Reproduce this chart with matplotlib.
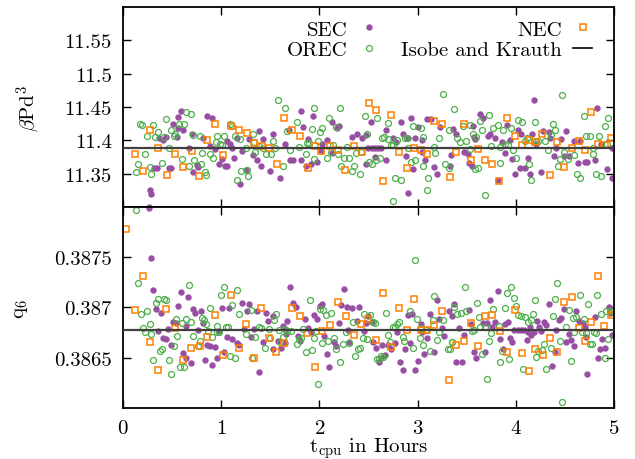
import matplotlib
matplotlib.use("Agg")
import matplotlib.pyplot as plt
from matplotlib.lines import Line2D

plt.rcParams["font.family"] = "serif"
plt.rcParams["font.serif"] = ["cmr10"]
plt.rcParams["mathtext.fontset"] = "cm"
plt.rcParams["axes.unicode_minus"] = False
plt.rcParams["axes.formatter.use_mathtext"] = True

# (t_cpu [h], beta P d^3) readings, upper panel
sec_top = [
    (0.59, 11.444), (0.56, 11.435), (0.51, 11.425), (0.56, 11.418), (0.61, 11.416),
    (0.37, 11.404), (0.41, 11.401), (0.44, 11.405), (0.55, 11.405), (0.70, 11.409),
    (0.67, 11.389), (0.32, 11.358), (0.35, 11.358), (0.47, 11.358), (0.49, 11.358),
    (0.75, 11.363), (0.76, 11.360), (0.71, 11.353), (0.27, 11.326), (0.29, 11.319),
    (0.26, 11.300), (0.86, 11.437), (0.91, 11.434), (0.81, 11.403), (0.89, 11.391),
    (0.94, 11.387), (1.06, 11.399), (1.09, 11.394), (1.01, 11.372), (0.98, 11.364),
    (1.04, 11.361), (1.06, 11.361), (1.13, 11.374), (1.21, 11.384), (1.28, 11.402),
    (1.38, 11.414), (1.43, 11.402), (1.32, 11.378), (1.36, 11.371), (1.41, 11.362),
    (1.50, 11.354), (1.53, 11.410), (1.60, 11.343), (1.65, 11.394), (1.25, 11.356),
    (1.19, 11.334), (1.11, 11.389), (1.16, 11.404),
    (1.81, 11.444), (1.93, 11.437), (1.83, 11.420), (1.69, 11.415), (1.88, 11.402),
    (2.08, 11.401), (2.03, 11.395), (1.70, 11.371), (1.73, 11.370), (1.81, 11.371),
    (1.91, 11.364), (1.86, 11.361), (1.98, 11.367), (2.02, 11.384), (2.13, 11.427),
    (2.18, 11.419), (2.20, 11.421), (2.33, 11.405), (2.38, 11.409), (2.43, 11.404),
    (2.47, 11.408), (2.53, 11.428), (2.68, 11.415), (2.50, 11.389), (2.54, 11.389),
    (2.57, 11.389), (2.60, 11.389), (2.63, 11.389), (2.57, 11.375), (2.47, 11.365),
    (2.68, 11.371), (2.75, 11.404), (2.78, 11.398), (2.83, 11.427), (2.85, 11.410),
    (2.93, 11.433), (2.88, 11.377), (2.90, 11.404), (2.97, 11.404), (3.00, 11.420),
    (3.05, 11.400), (2.95, 11.357), (3.05, 11.383), (3.08, 11.370), (3.10, 11.432),
    (3.14, 11.432), (3.23, 11.420), (3.17, 11.360), (3.20, 11.350), (2.90, 11.321),
    (3.34, 11.378), (2.13, 11.381),
    (4.19, 11.460), (4.83, 11.448), (3.64, 11.440), (3.67, 11.433), (3.56, 11.422),
    (3.36, 11.417), (3.39, 11.410), (3.57, 11.405), (3.58, 11.402), (3.47, 11.382),
    (3.51, 11.379), (3.74, 11.409), (3.72, 11.407), (3.79, 11.403), (3.91, 11.423),
    (3.94, 11.400), (3.86, 11.398), (4.02, 11.416), (4.05, 11.409), (3.89, 11.381),
    (3.96, 11.372), (4.12, 11.373), (4.04, 11.358), (4.09, 11.358), (4.14, 11.349),
    (3.99, 11.349), (4.26, 11.353), (4.17, 11.409), (4.21, 11.394), (4.28, 11.414),
    (4.34, 11.412), (4.35, 11.404), (4.51, 11.414), (4.41, 11.388), (4.39, 11.376),
    (4.46, 11.402), (4.49, 11.377), (4.54, 11.376), (4.59, 11.399), (4.65, 11.399),
    (4.63, 11.366), (4.70, 11.368), (4.73, 11.368), (4.81, 11.371), (4.87, 11.394),
    (4.93, 11.357), (4.98, 11.343), (4.98, 11.389), (3.33, 11.361), (3.52, 11.366),
    (3.55, 11.361), (3.82, 11.341),
]

orec_top = [
    (0.17, 11.424), (0.19, 11.423), (0.31, 11.423), (0.44, 11.432), (0.57, 11.424),
    (0.62, 11.424), (0.64, 11.442), (0.69, 11.439), (0.36, 11.413), (0.49, 11.415),
    (0.24, 11.406), (0.33, 11.405), (0.42, 11.405), (0.53, 11.409), (0.52, 11.406),
    (0.71, 11.408), (0.78, 11.406), (0.47, 11.388), (0.22, 11.380), (0.15, 11.364),
    (0.13, 11.352), (0.27, 11.360), (0.29, 11.349), (0.40, 11.366), (0.60, 11.372),
    (0.67, 11.362), (0.72, 11.371), (0.79, 11.364), (0.83, 11.353), (0.85, 11.348),
    (0.80, 11.381), (0.89, 11.379), (0.92, 11.373), (0.96, 11.406), (1.03, 11.406),
    (0.95, 11.397), (0.99, 11.395), (1.01, 11.393), (1.09, 11.425), (1.11, 11.421),
    (1.14, 11.406), (1.19, 11.402), (1.32, 11.409), (1.33, 11.398), (1.25, 11.388),
    (1.34, 11.383), (1.39, 11.391), (1.43, 11.389), (1.46, 11.380), (1.51, 11.380),
    (1.55, 11.389), (1.53, 11.399), (1.58, 11.460), (1.65, 11.449), (1.67, 11.414),
    (1.63, 11.361), (1.20, 11.354), (1.26, 11.355), (1.27, 11.347), (1.16, 11.341),
    (1.94, 11.449), (1.77, 11.428), (2.10, 11.433), (2.21, 11.448), (1.92, 11.417),
    (2.01, 11.413), (2.03, 11.418), (2.17, 11.420), (1.87, 11.396), (1.89, 11.396),
    (1.99, 11.399), (2.14, 11.393), (1.70, 11.385), (1.79, 11.390), (1.86, 11.380),
    (1.95, 11.372), (2.08, 11.374), (2.12, 11.382), (2.19, 11.380), (2.28, 11.390),
    (2.30, 11.374), (2.25, 11.373), (2.22, 11.362), (2.35, 11.362), (2.33, 11.354),
    (2.41, 11.349), (2.37, 11.381), (2.42, 11.382), (2.46, 11.437), (2.48, 11.409),
    (2.59, 11.433), (2.66, 11.405), (2.64, 11.403), (2.70, 11.426), (2.79, 11.400),
    (2.87, 11.403), (2.89, 11.403), (2.95, 11.421), (3.03, 11.418), (3.06, 11.405),
    (3.17, 11.390), (3.18, 11.381), (3.22, 11.404), (3.32, 11.416), (3.26, 11.469),
    (2.75, 11.393), (2.73, 11.393), (2.51, 11.368), (2.54, 11.365), (2.58, 11.371),
    (2.62, 11.373), (2.70, 11.402), (2.90, 11.389), (2.93, 11.367), (2.97, 11.371),
    (3.06, 11.361), (3.11, 11.343), (3.28, 11.364), (3.32, 11.359), (2.77, 11.344),
    (2.83, 11.341), (3.10, 11.325), (2.75, 11.309),
    (3.37, 11.447), (3.46, 11.422), (3.53, 11.423), (3.64, 11.429), (3.73, 11.438),
    (3.66, 11.416), (3.77, 11.418), (3.82, 11.423), (3.87, 11.416), (3.95, 11.418),
    (4.02, 11.430), (4.06, 11.428), (4.20, 11.428), (4.38, 11.424), (4.40, 11.415),
    (4.23, 11.399), (4.47, 11.468), (4.69, 11.436), (4.94, 11.434), (4.91, 11.421),
    (3.40, 11.403), (3.43, 11.397), (3.49, 11.399), (3.56, 11.410), (3.59, 11.405),
    (3.53, 11.387), (3.75, 11.392), (3.84, 11.390), (3.89, 11.394), (3.92, 11.393),
    (3.97, 11.386), (4.00, 11.374), (4.13, 11.364), (4.15, 11.340), (4.11, 11.404),
    (4.09, 11.399), (4.21, 11.399), (4.30, 11.399), (4.33, 11.386), (4.36, 11.408),
    (4.45, 11.372), (4.43, 11.362), (4.49, 11.383), (4.53, 11.372), (4.59, 11.378),
    (4.62, 11.350), (4.65, 11.343), (4.72, 11.406), (4.76, 11.407), (4.79, 11.379),
    (4.85, 11.406), (4.82, 11.349), (4.87, 11.347), (4.79, 11.388), (4.93, 11.395),
    (3.69, 11.318), (3.58, 11.357), (3.62, 11.358), (3.84, 11.366),
]

nec_top = [
    (0.12, 11.380), (0.20, 11.354), (0.28, 11.415), (0.36, 11.388), (0.45, 11.348),
    (0.53, 11.380), (0.61, 11.360), (0.70, 11.384), (0.77, 11.347), (0.86, 11.401),
    (0.94, 11.424), (1.02, 11.378), (1.10, 11.421), (1.18, 11.415), (1.26, 11.411),
    (1.33, 11.396), (1.42, 11.391), (1.49, 11.388), (1.57, 11.365), (1.64, 11.433),
    (1.72, 11.415), (1.80, 11.406), (1.88, 11.358), (1.96, 11.392), (2.02, 11.384),
    (2.11, 11.392), (2.19, 11.385), (2.26, 11.356), (2.35, 11.391), (2.43, 11.382),
    (2.51, 11.456), (2.58, 11.445), (2.65, 11.339), (2.73, 11.438), (2.81, 11.382),
    (2.89, 11.359), (2.96, 11.388), (3.03, 11.386), (3.10, 11.379), (3.17, 11.429),
    (3.25, 11.424), (3.33, 11.345), (3.39, 11.383), (3.47, 11.425), (3.54, 11.370),
    (3.62, 11.387), (3.69, 11.370), (3.76, 11.364), (3.83, 11.339), (3.91, 11.434),
    (3.99, 11.406), (4.06, 11.393), (4.13, 11.400), (4.20, 11.398), (4.27, 11.409),
    (4.35, 11.348), (4.42, 11.397), (4.49, 11.360), (4.57, 11.388), (4.64, 11.399),
    (4.70, 11.386), (4.77, 11.442), (4.84, 11.395), (4.91, 11.393), (4.97, 11.403),
]

# (t_cpu [h], q6) readings, lower panel
sec_bot = [
    (0.26, 0.38799), (0.29, 0.38749), (0.31, 0.38717), (0.59, 0.38715), (0.66, 0.38710),
    (0.56, 0.38701), (0.34, 0.38698), (0.39, 0.38695), (0.71, 0.38698), (0.73, 0.38695),
    (0.79, 0.38696), (0.81, 0.38685), (1.01, 0.38699), (1.08, 0.38699), (1.21, 0.38704),
    (1.28, 0.38703), (1.26, 0.38696), (1.36, 0.38696), (1.46, 0.38695), (1.48, 0.38687),
    (1.53, 0.38692), (1.63, 0.38682), (1.67, 0.38687), (0.36, 0.38677), (0.46, 0.38679),
    (0.41, 0.38670), (0.44, 0.38669), (0.49, 0.38663), (0.61, 0.38655), (0.64, 0.38650),
    (0.69, 0.38645), (0.84, 0.38648), (0.91, 0.38643), (0.96, 0.38650), (1.03, 0.38656),
    (0.86, 0.38663), (0.89, 0.38662), (0.94, 0.38661), (1.06, 0.38671), (1.11, 0.38669),
    (1.16, 0.38665), (1.18, 0.38663), (1.30, 0.38671), (1.23, 0.38679), (1.33, 0.38679),
    (1.38, 0.38636), (1.43, 0.38666), (1.53, 0.38659), (1.58, 0.38667), (1.61, 0.38660),
    (1.65, 0.38665), (0.51, 0.38686), (0.54, 0.38685), (0.64, 0.38682), (0.76, 0.38678),
    (0.98, 0.38677),
    (1.70, 0.38720), (1.73, 0.38704), (1.76, 0.38700), (1.85, 0.38689), (1.95, 0.38693),
    (1.98, 0.38689), (2.01, 0.38701), (2.03, 0.38703), (2.20, 0.38685), (2.22, 0.38702),
    (2.25, 0.38718), (2.28, 0.38700), (2.33, 0.38699), (2.40, 0.38700), (2.38, 0.38687),
    (2.47, 0.38685), (2.49, 0.38692), (2.54, 0.38686), (2.45, 0.38677), (1.78, 0.38672),
    (1.80, 0.38667), (1.88, 0.38680), (1.91, 0.38676), (2.05, 0.38672), (2.08, 0.38654),
    (2.10, 0.38641), (2.15, 0.38666), (2.17, 0.38662), (2.30, 0.38666), (2.29, 0.38678),
    (2.55, 0.38666), (2.58, 0.38660), (2.61, 0.38646), (2.63, 0.38650), (2.64, 0.38663),
    (2.67, 0.38653), (2.70, 0.38663), (2.73, 0.38659), (2.77, 0.38665), (2.82, 0.38646),
    (2.85, 0.38638), (2.87, 0.38659), (2.92, 0.38665), (2.90, 0.38693), (2.94, 0.38694),
    (2.97, 0.38638), (3.00, 0.38647), (3.03, 0.38684), (3.05, 0.38676), (3.10, 0.38670),
    (3.07, 0.38654), (3.17, 0.38656), (3.13, 0.38694), (3.20, 0.38707), (3.22, 0.38689),
    (3.25, 0.38680), (3.27, 0.38672), (3.32, 0.38696), (1.66, 0.38674), (2.79, 0.38676),
    (3.37, 0.38703), (3.35, 0.38692), (3.52, 0.38697), (3.54, 0.38684), (3.67, 0.38685),
    (3.71, 0.38685), (3.74, 0.38707), (3.82, 0.38716), (3.79, 0.38686), (3.76, 0.38681),
    (3.89, 0.38684), (3.92, 0.38686), (3.98, 0.38678), (4.02, 0.38678), (4.05, 0.38678),
    (4.08, 0.38678), (4.11, 0.38668), (4.16, 0.38673), (4.14, 0.38681), (4.22, 0.38687),
    (4.24, 0.38681), (4.29, 0.38686), (4.31, 0.38683), (4.26, 0.38677), (4.34, 0.38703),
    (4.41, 0.38678), (4.44, 0.38688), (4.46, 0.38690), (4.49, 0.38698), (4.51, 0.38666),
    (4.54, 0.38674), (4.56, 0.38668), (4.59, 0.38662), (4.61, 0.38696), (4.64, 0.38687),
    (4.68, 0.38685), (4.70, 0.38681), (4.73, 0.38634), (4.71, 0.38671), (4.81, 0.38691),
    (4.84, 0.38650), (4.86, 0.38659), (4.88, 0.38669), (4.91, 0.38660), (4.95, 0.38700),
    (4.98, 0.38673), (4.96, 0.38695), (3.39, 0.38646), (3.45, 0.38646), (3.47, 0.38673),
    (3.57, 0.38656), (3.59, 0.38650), (3.69, 0.38656), (3.84, 0.38669), (3.87, 0.38659),
    (3.94, 0.38670), (3.96, 0.38666), (4.37, 0.38642), (4.40, 0.38656), (3.42, 0.38680),
    (4.12, 0.38676), (4.19, 0.38676),
]

orec_bot = [
    (0.13, 0.38797), (0.15, 0.38724), (0.67, 0.38722), (1.03, 0.38720), (1.00, 0.38712),
    (1.16, 0.38717), (0.34, 0.38704), (0.36, 0.38708), (0.42, 0.38708), (0.44, 0.38707),
    (0.24, 0.38696), (0.18, 0.38694), (0.27, 0.38684), (0.20, 0.38680), (0.22, 0.38676),
    (0.29, 0.38674), (0.54, 0.38689), (0.60, 0.38685), (0.645, 0.38689), (0.69, 0.38686),
    (0.80, 0.38690), (0.82, 0.38688), (0.89, 0.38699), (0.85, 0.38684), (0.96, 0.38682),
    (1.05, 0.38681), (1.07, 0.38681), (1.11, 0.38702), (1.18, 0.38694), (1.30, 0.38697),
    (1.39, 0.38681), (1.41, 0.38680), (1.54, 0.38688), (1.56, 0.38694), (1.49, 0.38679),
    (1.59, 0.38678), (1.65, 0.38679), (0.31, 0.38648), (0.38, 0.38657), (0.40, 0.38659),
    (0.47, 0.38648), (0.49, 0.38634), (0.52, 0.38662), (0.55, 0.38672), (0.58, 0.38641),
    (0.62, 0.38641), (0.71, 0.38672), (0.76, 0.38662), (0.78, 0.38667), (0.87, 0.38677),
    (0.91, 0.38671), (0.96, 0.38676), (0.98, 0.38676), (1.09, 0.38652), (1.14, 0.38650),
    (1.25, 0.38674), (1.31, 0.38650), (1.34, 0.38671), (1.45, 0.38660), (1.50, 0.38670),
    (1.60, 0.38666), (1.63, 0.38671), (1.67, 0.38677),
    (1.90, 0.38707), (1.99, 0.38624), (2.01, 0.38698), (2.04, 0.38697), (2.07, 0.38693),
    (2.12, 0.38695), (1.71, 0.38677), (1.83, 0.38679), (1.79, 0.38669), (1.77, 0.38664),
    (1.81, 0.38670), (1.86, 0.38656), (1.92, 0.38658), (1.94, 0.38670), (1.97, 0.38677),
    (2.03, 0.38665), (2.09, 0.38667), (2.15, 0.38670), (2.17, 0.38659), (2.21, 0.38646),
    (2.24, 0.38664), (2.27, 0.38676), (2.30, 0.38665), (2.34, 0.38686), (2.36, 0.38652),
    (2.39, 0.38659), (2.41, 0.38660), (2.44, 0.38670), (2.48, 0.38669), (2.45, 0.38694),
    (2.52, 0.38693), (2.55, 0.38686), (2.57, 0.38685), (2.68, 0.38695), (2.70, 0.38673),
    (2.72, 0.38666), (2.75, 0.38681), (2.77, 0.38681), (2.79, 0.38684), (2.81, 0.38686),
    (2.85, 0.38671), (2.86, 0.38667), (2.95, 0.38660), (2.97, 0.38747), (2.92, 0.38696),
    (2.99, 0.38689), (3.02, 0.38670), (3.03, 0.38680), (3.06, 0.38663), (3.09, 0.38678),
    (3.13, 0.38657), (3.17, 0.38711), (3.16, 0.38688), (3.20, 0.38668), (3.22, 0.38676),
    (3.26, 0.38688), (3.31, 0.38659), (3.33, 0.38659), (3.35, 0.38666), (2.59, 0.38649),
    (2.61, 0.38649), (2.65, 0.38651), (2.63, 0.38652),
    (3.48, 0.38720), (3.37, 0.38700), (3.40, 0.38694), (3.44, 0.38695), (3.49, 0.38696),
    (3.60, 0.38704), (3.77, 0.38698), (3.63, 0.38691), (3.69, 0.38681), (3.64, 0.38681),
    (3.73, 0.38667), (3.75, 0.38675), (3.83, 0.38682), (3.89, 0.38699), (3.91, 0.38714),
    (3.95, 0.38720), (3.98, 0.38709), (4.00, 0.38701), (4.02, 0.38693), (4.05, 0.38692),
    (4.09, 0.38691), (4.12, 0.38686), (4.15, 0.38688), (4.18, 0.38694), (4.20, 0.38707),
    (4.38, 0.38692), (4.40, 0.38708), (4.42, 0.38724), (4.51, 0.38681), (4.54, 0.38697),
    (4.58, 0.38690), (4.61, 0.38691), (4.65, 0.38712), (4.69, 0.38689), (4.74, 0.38703),
    (4.83, 0.38712), (4.82, 0.38675), (4.87, 0.38694), (4.92, 0.38696), (4.96, 0.38696),
    (4.99, 0.38696), (3.35, 0.38666), (3.55, 0.38677), (3.57, 0.38678), (3.66, 0.38654),
    (3.71, 0.38629), (3.84, 0.38646), (3.86, 0.38657), (3.93, 0.38649), (4.07, 0.38639),
    (4.21, 0.38651), (4.23, 0.38657), (4.27, 0.38658), (4.29, 0.38664), (4.31, 0.38639),
    (4.36, 0.38660), (4.45, 0.38667), (4.47, 0.38606), (4.56, 0.38647), (4.59, 0.38676),
    (4.67, 0.38676), (4.72, 0.38675), (4.76, 0.38664), (4.78, 0.38664), (4.80, 0.38676),
    (4.94, 0.38669), (4.91, 0.38650),
]

nec_bot = [
    (0.03, 0.38778), (0.12, 0.38697), (0.20, 0.38731), (0.28, 0.38666), (0.36, 0.38638),
    (0.44, 0.38698), (0.53, 0.38680), (0.61, 0.38648), (0.69, 0.38660), (0.78, 0.38662),
    (0.86, 0.38671), (0.94, 0.38693), (1.02, 0.38653), (1.10, 0.38712), (1.18, 0.38660),
    (1.25, 0.38684), (1.33, 0.38650), (1.41, 0.38699), (1.49, 0.38670), (1.56, 0.38656),
    (1.64, 0.38665), (1.72, 0.38699), (1.80, 0.38692), (1.87, 0.38675), (1.96, 0.38641),
    (2.03, 0.38677), (2.11, 0.38683), (2.19, 0.38705), (2.27, 0.38692), (2.35, 0.38673),
    (2.42, 0.38684), (2.50, 0.38689), (2.58, 0.38668), (2.65, 0.38714), (2.73, 0.38661),
    (2.81, 0.38699), (2.89, 0.38678), (2.96, 0.38708), (3.03, 0.38678), (3.10, 0.38678),
    (3.17, 0.38683), (3.25, 0.38696), (3.32, 0.38628), (3.39, 0.38663), (3.47, 0.38667),
    (3.54, 0.38685), (3.62, 0.38662), (3.69, 0.38692), (3.76, 0.38693), (3.84, 0.38677),
    (3.91, 0.38656), (3.99, 0.38697), (4.06, 0.38655), (4.13, 0.38637), (4.20, 0.38659),
    (4.28, 0.38653), (4.35, 0.38670), (4.42, 0.38656), (4.49, 0.38705), (4.57, 0.38710),
    (4.64, 0.38680), (4.70, 0.38667), (4.77, 0.38686), (4.84, 0.38731), (4.90, 0.38682),
    (4.97, 0.38693),
]

isobe_krauth_p = 11.388
isobe_krauth_q6 = 0.38678

top_ticks = [11.35, 11.4, 11.45, 11.5, 11.55]
top_labels = ["11.35", "11.4", "11.45", "11.5", "11.55"]
bot_ticks = [0.3865, 0.387, 0.3875]
bot_labels = ["0.3865", "0.387", "0.3875"]
x_ticks = [0, 1, 2, 3, 4, 5]

purple = "#984ea3"
green = "#4daf4a"
orange = "#ff7f00"
fs = 15


def draw(ax, sec, orec, nec, ref):
    t, v = zip(*sec)
    ax.plot(t, v, "o", ms=4.6, color=purple, mec=purple, mew=0)
    t, v = zip(*orec)
    ax.plot(t, v, "o", ms=4.3, mfc="none", mec=green, mew=0.9)
    t, v = zip(*nec)
    ax.plot(t, v, "s", ms=4.8, mfc="none", mec=orange, mew=1.1)
    ax.axhline(ref, color="0.25", lw=1.6, zorder=5)
    ax.set_xlim(0, 5)
    ax.set_xticks(x_ticks)
    ax.tick_params(direction="in", top=True, right=True, length=6, width=1,
                   labelsize=fs, pad=8)
    for s in ax.spines.values():
        s.set_linewidth(1.3)


fig = plt.figure(figsize=(6.35, 4.6), dpi=100)
ax1 = fig.add_axes([0.1937, 0.5478, 0.7732, 0.4348])
ax2 = fig.add_axes([0.1937, 0.1109, 0.7732, 0.4370])

draw(ax1, sec_top, orec_top, nec_top, isobe_krauth_p)
ax1.set_ylim(11.30, 11.60)
ax1.set_yticks(top_ticks)
ax1.set_yticklabels(top_labels)
ax1.tick_params(labelbottom=False)
ax1.set_ylabel(r"$\beta$Pd$^3$", fontsize=fs)
ax1.yaxis.set_label_coords(-0.165, 0.5)

draw(ax2, sec_bot, orec_bot, nec_bot, isobe_krauth_q6)
ax2.set_ylim(0.3860, 0.3880)
ax2.set_yticks(bot_ticks)
ax2.set_yticklabels(bot_labels)
ax2.set_ylabel(r"q$_6$", fontsize=fs)
ax2.yaxis.set_label_coords(-0.19, 0.5)
ax2.set_xlabel(r"t$_{\rm cpu}$ in Hours", fontsize=fs, labelpad=-1)

handles = [
    Line2D([], [], ls="none", marker="o", ms=4.6, color=purple, mew=0),
    Line2D([], [], ls="none", marker="o", ms=4.3, mfc="none", mec=green, mew=0.9),
    Line2D([], [], ls="none", marker="s", ms=4.8, mfc="none", mec=orange, mew=1.1),
    Line2D([], [], color="black", lw=1.2),
]
labels = ["SEC", "OREC", "NEC", "Isobe and Krauth"]
ax1.legend(handles, labels, loc="upper right", bbox_to_anchor=(0.955, 0.935),
           ncol=2, markerfirst=False, frameon=False, fontsize=fs,
           borderpad=0, borderaxespad=0, handlelength=0.9, handletextpad=0.55,
           columnspacing=1.1, labelspacing=0.1)

fig.savefig("out.png", dpi=100)
